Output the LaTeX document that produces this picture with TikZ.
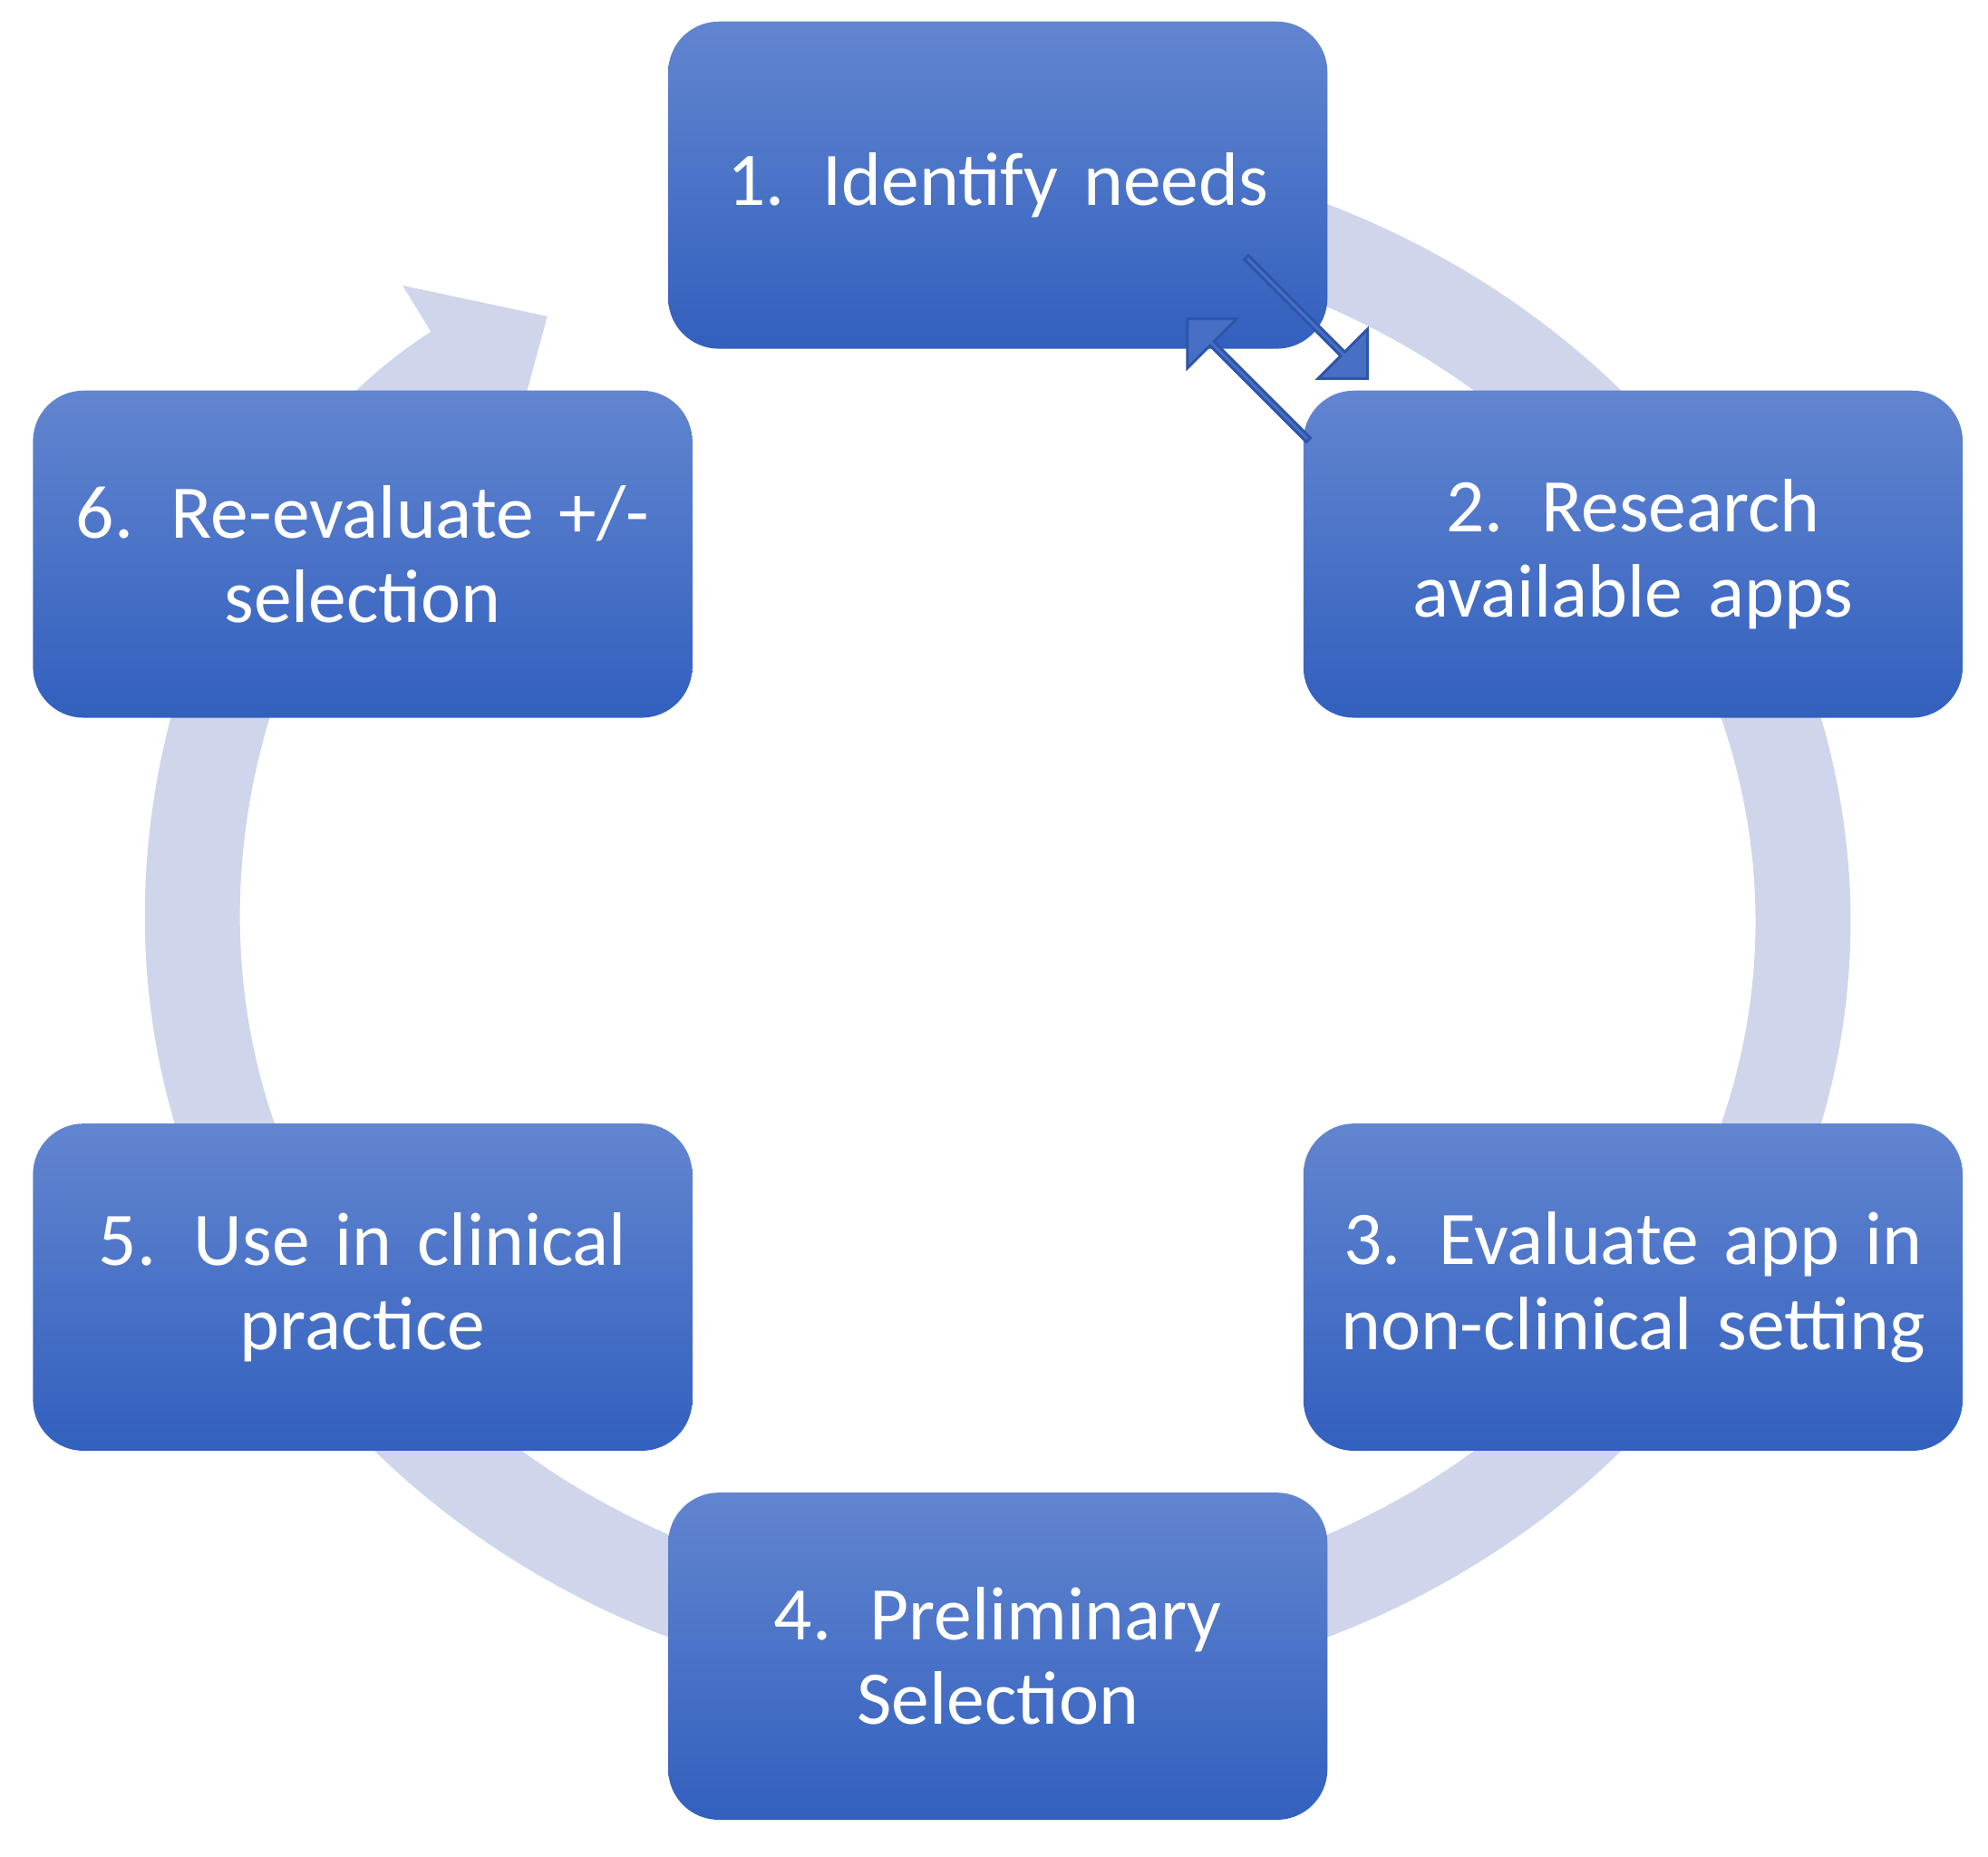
\documentclass[tikz,border=0pt]{standalone}
\usepackage{fontspec}
\setmainfont{Carlito}
\usetikzlibrary{arrows.meta,shapes.arrows}
\definecolor{ringc}{RGB}{207,213,234}
\definecolor{boxtop}{RGB}{98,133,208}
\definecolor{boxbot}{RGB}{50,96,190}
\definecolor{boxline}{RGB}{45,85,170}
\tikzset{
  stage/.style={rounded corners=0.4cm, top color=boxtop, bottom color=boxbot,
    minimum width=5.2cm, minimum height=2.58cm, text width=4.9cm, align=center,
    text=white, font=\fontsize{17}{19}\selectfont},
  swap/.style={single arrow, draw=boxline, fill=boxbot!90!white, line width=0.6pt,
    minimum height=1.35cm, minimum width=0.55cm, single arrow head extend=0.12cm,
    inner sep=0pt}
}
\begin{document}
\begin{tikzpicture}
  \useasboundingbox (0,0) rectangle (15.68,14.64);
  % ring behind the stages
  \coordinate (ctr) at (7.87,7.38);
  \draw[ringc, line width=0.75cm, -{Triangle[width=1.55cm,length=0.85cm]}]
    ([shift={(100:6.35cm and 5.75cm)}]ctr) arc[start angle=100, end angle=-236, x radius=6.35cm, y radius=5.75cm];
  % stages
  \node[stage] (s1) at (7.87,13.18) {1. Identify needs};
  \node[stage] (s2) at (12.88,10.27) {2. Research\\available apps};
  \node[stage] (s3) at (12.88,4.49) {3. Evaluate app in\\non-clinical setting};
  \node[stage] (s4) at (7.87,1.58) {4. Preliminary\\Selection};
  \node[stage] (s5) at (2.86,4.49) {5. Use in clinical\\practice};
  \node[stage] (s6) at (2.86,10.27) {6. Re-evaluate +/-\\selection};
  % back and forth between 1 and 2
  \node[swap, rotate=-45] (fwd) at (10.30,12.14) {};
  \node[swap, rotate=135] (bwd) at (9.85,11.64) {};
\end{tikzpicture}
\end{document}
